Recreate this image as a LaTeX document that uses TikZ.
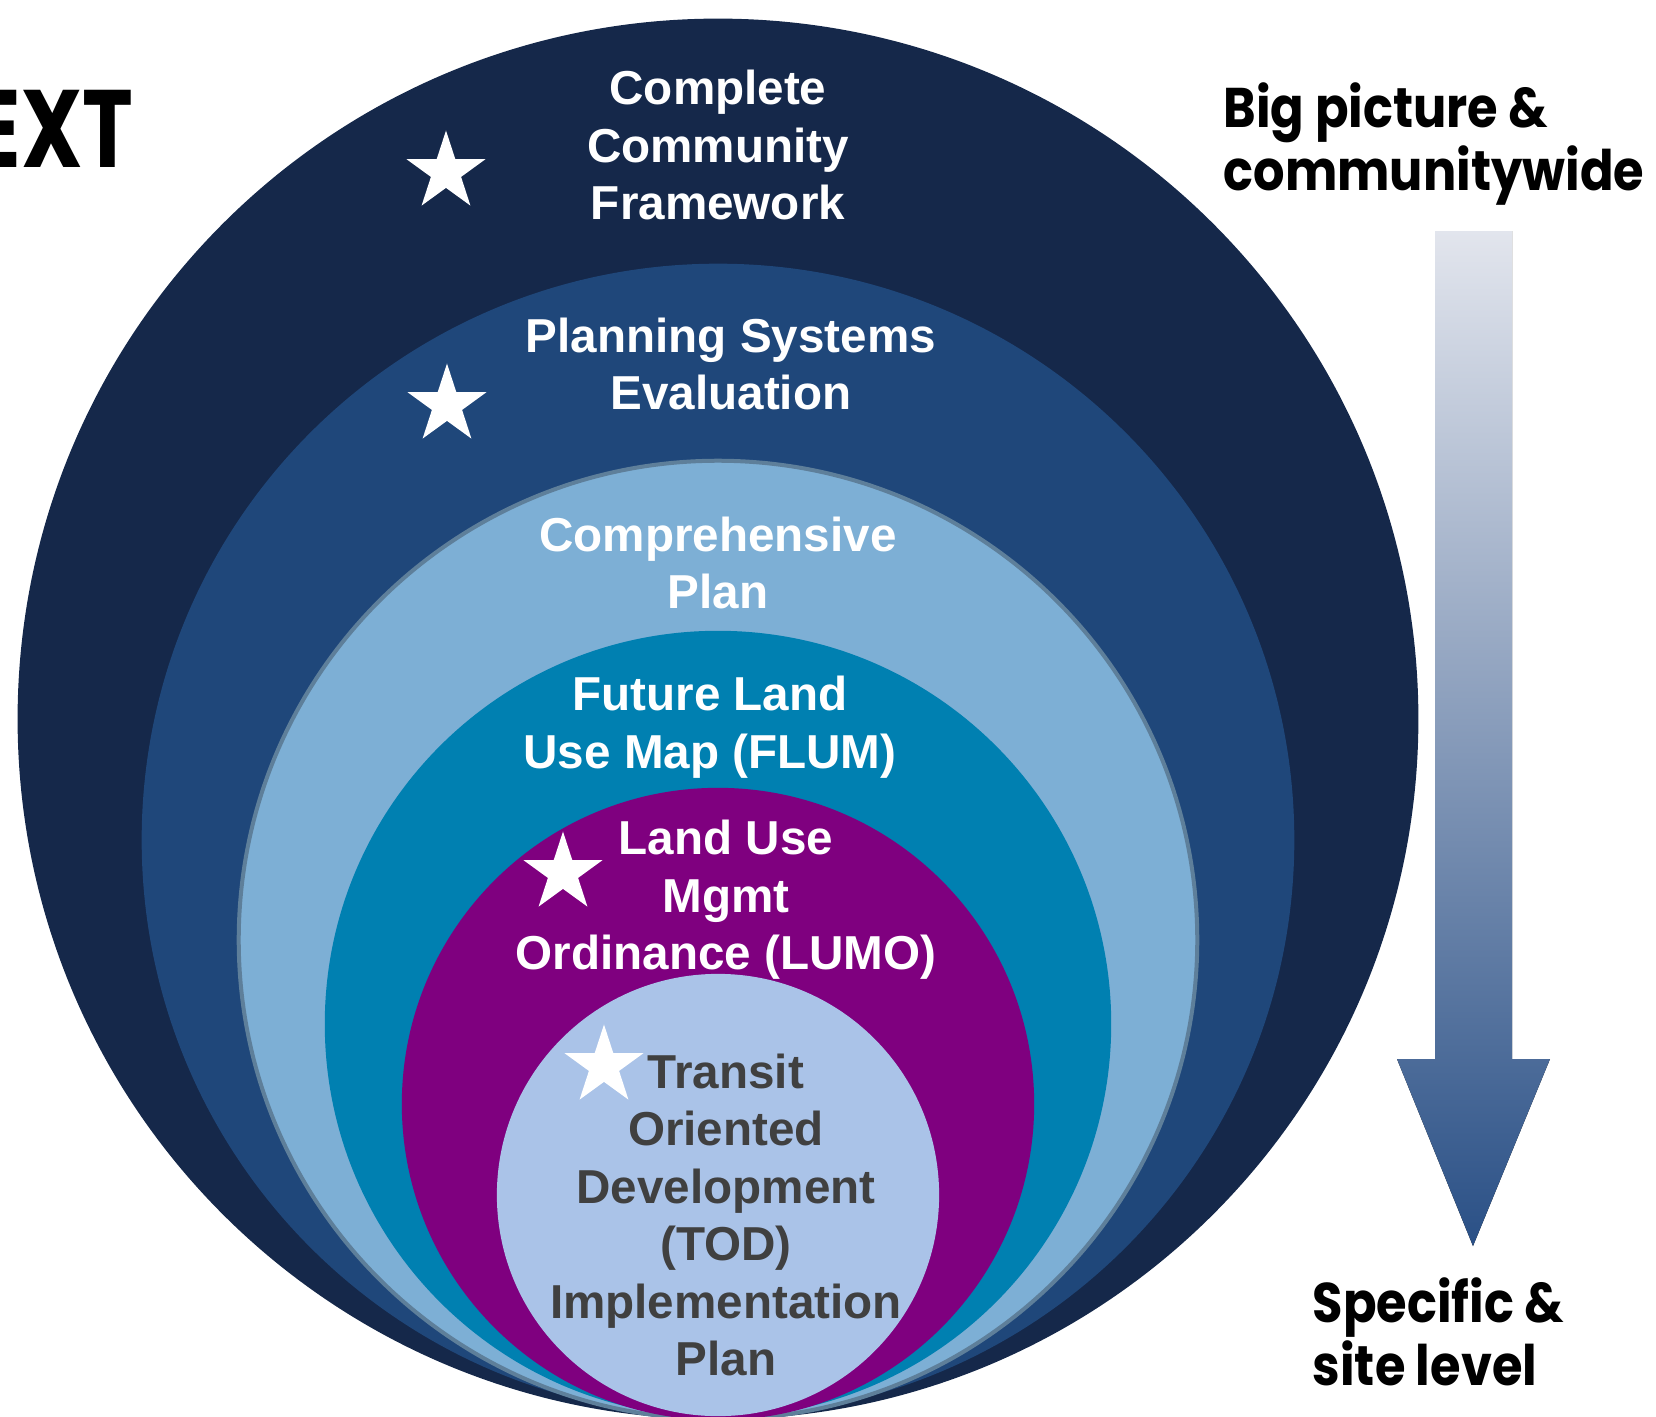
\documentclass[tikz,border=0pt]{standalone}
\usepackage{fontspec}
\setmainfont{Liberation Sans}
\newfontfamily\geofont{Poppins}[FakeStretch=0.885]
\newfontfamily\extfont{Poppins}[FakeStretch=0.78]
\usetikzlibrary{shapes.geometric}

\definecolor{ringA}{HTML}{15284A}
\definecolor{ringB}{HTML}{1F477A}
\definecolor{ringC}{HTML}{7DAFD5}
\definecolor{ringCline}{HTML}{5E7F9A}
\definecolor{ringD}{HTML}{0080B1}
\definecolor{ringE}{HTML}{7F007F}
\definecolor{ringF}{HTML}{AAC3E8}
\definecolor{todtext}{HTML}{404040}
\definecolor{arrowtop}{HTML}{E2E5ED}
\definecolor{arrowmid}{HTML}{C0C7D7}
\definecolor{arrowbot}{HTML}{2A5086}

\begin{document}
\begin{tikzpicture}[x=0.01cm, y=-0.01cm,
		ringtext/.style={text=white, font=\fontsize{13.54pt}{16.36pt}\selectfont\bfseries,
			align=center, inner sep=0pt},
		starmark/.style={star, star points=5, star point ratio=2.618, fill=white,
			minimum size=0.83cm, inner sep=0pt},
		sidetext/.style={font=\geofont\fontsize{15.9pt}{17.9pt}\selectfont\bfseries,
			align=left, inner sep=0pt, anchor=north west}]
		\useasboundingbox (0,0) rectangle (1656,1417);
		\clip (0,0) rectangle (1656,1417);
		% rings, outside in
		\fill[ringA] (718,719) circle[radius=7cm];
		\fill[ringB] (718,840) circle[radius=5.76cm];
		\fill[ringC, draw=ringCline, line width=0.04cm] (718,940) circle[radius=4.79cm];
		\fill[ringD] (718,1024) circle[radius=3.93cm];
		\fill[ringE] (718,1104) circle[radius=3.16cm];
		\fill[ringF] (718,1195) circle[radius=2.21cm];
		% ring labels
		\node[ringtext] (ccf) at (718,145) {Complete\\Community\\Framework};
		\node[ringtext] (pse) at (731,364) {Planning Systems\\Evaluation};
		\node[ringtext] (comp) at (718,563) {Comprehensive\\Plan};
		\node[ringtext] (flum) at (710,727) {Future Land\\Use Map (FLUM)};
		\node[ringtext] (lumo) at (726,900) {Land Use\\Mgmt\\Ordinance (LUMO)};
		\node[ringtext, text=todtext] (tod) at (726,1215) {Transit\\Oriented\\Development\\(TOD)\\Implementation\\Plan};
		% stars
		\node[starmark] (s1) at (446,172) {};
		\node[starmark] (s2) at (447,405) {};
		\node[starmark] (s3) at (563,873) {};
		\node[starmark] (s4) at (604,1066) {};
		% scale arrow
		\fill[top color=arrowtop, middle color=arrowmid, bottom color=arrowbot]
		(1435,231) -- (1512,231) -- (1512,1059) -- (1550,1059) -- (1473,1246)
		-- (1397,1059) -- (1435,1059) -- cycle;
		\node[sidetext] (big) at (1223,82) {Big picture \&\\communitywide};
		\node[sidetext] (site) at (1312,1277) {Specific \&\\site level};
		\node[font=\extfont\fontsize{31.3pt}{36pt}\selectfont\bfseries, inner sep=0pt,
			anchor=base east] (ext) at (134,167) {EXT};
	\end{tikzpicture}
\end{document}
